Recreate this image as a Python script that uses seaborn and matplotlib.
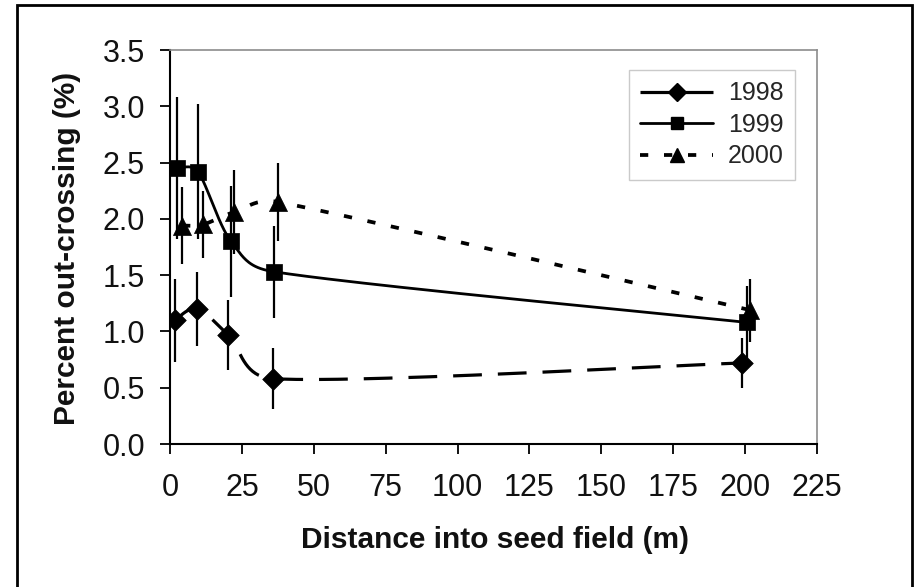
import numpy as np
import pandas as pd
import matplotlib
matplotlib.use("Agg")
import matplotlib.pyplot as plt
import seaborn as sns
from matplotlib.lines import Line2D
from matplotlib.patches import Rectangle

# ---- data ----
years = ["1998", "1999", "2000"]
x_1998 = [1.7, 9.4, 20.2, 35.8, 199.0]
y_1998 = [1.10, 1.20, 0.97, 0.58, 0.72]
e_1998 = [0.37, 0.33, 0.31, 0.27, 0.22]

x_1999 = [2.4, 9.7, 21.2, 36.2, 200.6]
y_1999 = [2.45, 2.42, 1.80, 1.53, 1.08]
e_1999 = [0.63, 0.60, 0.49, 0.41, 0.32]

x_2000 = [4.2, 11.5, 22.3, 37.6, 201.7]
y_2000 = [1.94, 1.95, 2.06, 2.15, 1.19]
e_2000 = [0.34, 0.30, 0.37, 0.35, 0.28]

x_ticks = [0, 25, 50, 75, 100, 125, 150, 175, 200, 225]
y_ticks = [0.0, 0.5, 1.0, 1.5, 2.0, 2.5, 3.0, 3.5]
x_label = "Distance into seed field (m)"
y_label = "Percent out-crossing (%)"

XMAX, YMAX = 225, 3.5
AX_W_PX, AX_H_PX = 817 - 170, 444 - 50


def smooth(xs, ys, n=40):
    """Excel-like smoothed line: cubic Bezier through the points, with
    Catmull-Rom handles limited (in screen space) to half the chord."""
    sx, sy = AX_W_PX / XMAX, AX_H_PX / YMAX
    P = np.column_stack([np.asarray(xs) * sx, np.asarray(ys) * sy]).astype(float)
    Pe = np.vstack([P[0], P, P[-1]])
    t = np.linspace(0, 1, n)
    out = []
    for i in range(1, len(Pe) - 2):
        p0, p1, p2, p3 = Pe[i - 1], Pe[i], Pe[i + 1], Pe[i + 2]
        chord = np.linalg.norm(p2 - p1)
        h1 = (p2 - p0) / 6.0
        h2 = (p3 - p1) / 6.0
        lim = 0.5 * chord
        for h in (h1, h2):
            L = np.linalg.norm(h)
            if L > lim and L > 0:
                h *= lim / L
        c1 = p1 + h1
        c2 = p2 - h2
        seg = ((1 - t) ** 3)[:, None] * p1 + (3 * (1 - t) ** 2 * t)[:, None] * c1 \
            + (3 * (1 - t) * t ** 2)[:, None] * c2 + (t ** 3)[:, None] * p2
        out.append(seg if i == 1 else seg[1:])
    out = np.vstack(out)
    return out[:, 0] / sx, out[:, 1] / sy


sns.set_theme(style="white")
plt.rcParams["font.family"] = ["Liberation Sans", "DejaVu Sans"]

fig = plt.figure(figsize=(9.14, 5.87), dpi=100)
ax = fig.add_axes([170 / 914, 1 - 444 / 587, AX_W_PX / 914, AX_H_PX / 587])

series = [
    (years[0], x_1998, y_1998, e_1998, "D", 11.0, 2.3, (0, (9.0, 5.0))),
    (years[1], x_1999, y_1999, e_1999, "s", 11.0, 2.0, "-"),
    (years[2], x_2000, y_2000, e_2000, "^", 13.0, 2.7, (0, (2.2, 4.2))),
]

handles = []
for name, xs, ys, es, mk, ms, lw, ls in series:
    cx, cy = smooth(xs, ys)
    curve = pd.DataFrame({"x": cx, "y": cy})
    sns.lineplot(data=curve, x="x", y="y", ax=ax, sort=False, estimator=None,
                 color="black", lw=lw, linestyle=ls, zorder=2,
                 solid_capstyle="butt", dash_capstyle="butt")
    ax.errorbar(xs, ys, yerr=es, fmt="none", ecolor="black",
                elinewidth=1.6, capsize=0, zorder=3)
    pts = pd.DataFrame({"x": xs, "y": ys})
    sns.scatterplot(data=pts, x="x", y="y", ax=ax, marker=mk, s=ms ** 2,
                    color="black", edgecolor="black", linewidth=0.5, zorder=4)
    handles.append(Line2D([0], [0], color="black", lw=lw, linestyle=ls,
                          marker=mk, markersize=ms * 0.8, label=name,
                          dash_capstyle="butt"))

ax.set_xlim(0, XMAX)
ax.set_ylim(0, YMAX)
ax.set_xticks(x_ticks)
ax.set_yticks(y_ticks)
ax.set_xticklabels([str(v) for v in x_ticks])
ax.set_yticklabels([f"{v:.1f}" for v in y_ticks])
ax.set_xlabel("")
ax.set_ylabel("")
ax.tick_params(axis="both", which="major", direction="out", length=7,
               width=1.3, color="black", labelsize=22, labelcolor="#111111")
ax.tick_params(axis="x", pad=14, bottom=True)
ax.tick_params(axis="y", pad=11, left=True)

for side in ["left", "bottom"]:
    ax.spines[side].set_color("black")
    ax.spines[side].set_linewidth(1.5)
for side in ["top", "right"]:
    ax.spines[side].set_visible(True)
    ax.spines[side].set_color("#8c8c8c")
    ax.spines[side].set_linewidth(1.2)
ax.grid(False)

leg = ax.legend(handles=handles, loc="upper right",
                bbox_to_anchor=(795 / 914, 1 - 70 / 587),
                bbox_transform=fig.transFigure, frameon=True, fancybox=False,
                fontsize=18, handlelength=2.9, handletextpad=0.6,
                labelspacing=0.3, borderpad=0.45, borderaxespad=0)
leg.get_frame().set_edgecolor("#bdbdbd")
leg.get_frame().set_linewidth(1.0)

fig.text(495 / 914, 1 - 540 / 587, x_label, ha="center", va="center",
         fontsize=21.5, fontweight="bold", color="#111111")
fig.text(67 / 914, 1 - 248 / 587, y_label, ha="center", va="center",
         rotation=90, fontsize=21.5, fontweight="bold", color="#111111")

# outer frame of the figure (open at the bottom)
frame = Rectangle((17 / 914, -0.05), (912 - 17) / 914, 1.05 - 5 / 587,
                  transform=fig.transFigure, fill=False, edgecolor="black",
                  linewidth=2.0, clip_on=False)
fig.patches.append(frame)

fig.savefig("out.png", dpi=100)
